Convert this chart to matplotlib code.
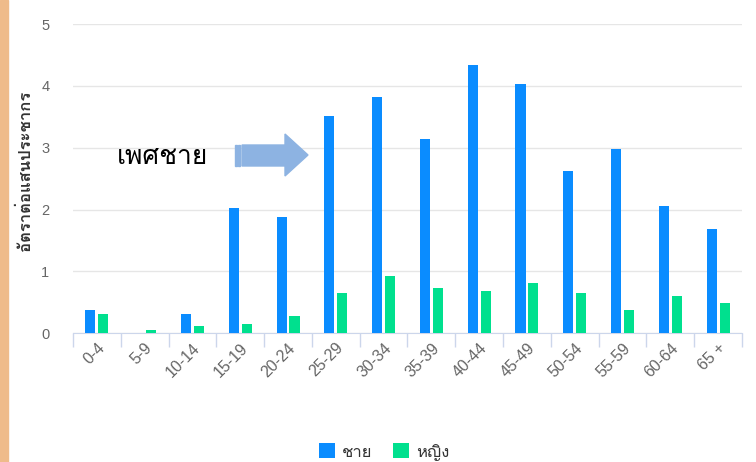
import matplotlib
matplotlib.use("Agg")
import matplotlib.pyplot as plt
from matplotlib.patches import Rectangle, Polygon
import numpy as np

categories = ["0-4", "5-9", "10-14", "15-19", "20-24", "25-29", "30-34",
              "35-39", "40-44", "45-49", "50-54", "55-59", "60-64", "65 +"]
male = [0.37, 0.0, 0.31, 2.03, 1.88, 3.52, 3.82, 3.14, 4.33, 4.03, 2.62, 2.98, 2.05, 1.68]
female = [0.32, 0.05, 0.11, 0.15, 0.28, 0.65, 0.92, 0.73, 0.69, 0.82, 0.65, 0.37, 0.61, 0.49]
series_names = ["ชาย", "หญิง"]
y_label = "อัตราต่อแสนประชากร"
annotation = "เพศชาย"

plt.rcParams['font.family'] = ["Liberation Sans", "Loma", "Noto Sans Thai Looped", "DejaVu Sans"]

BLUE = "#0A8CFF"
GREEN = "#00E08E"

fig = plt.figure(figsize=(7.56, 4.62), dpi=100)
ax = fig.add_axes([73/756, 1-333.3/462, (742-73)/756, (333.3-24)/462])

x = np.arange(len(categories))
w = 0.21
ax.bar(x - 0.135, male, w, color=BLUE, label=series_names[0], zorder=3)
ax.bar(x + 0.135, female, w, color=GREEN, label=series_names[1], zorder=3)

ax.set_xlim(-0.5, len(categories) - 0.5)
ax.set_ylim(0, 5)
ax.set_yticks([0, 1, 2, 3, 4, 5])
ax.yaxis.grid(True, color="#e6e6e6", linewidth=1, zorder=0)
ax.tick_params(axis="y", length=0, labelsize=10.5, labelcolor="#666666", pad=17)
ax.set_xticks(x)
ax.set_xticklabels(categories, rotation=45, ha="right", rotation_mode="anchor",
                   fontsize=11.5, color="#666666")
ax.tick_params(axis="x", length=0, pad=5)
ax.set_xticks(np.arange(-0.5, len(categories)), minor=True)
ax.tick_params(axis="x", which="minor", length=10, color="#ccd6eb", width=1)
for s in ["top", "right", "left"]:
    ax.spines[s].set_visible(False)
ax.spines["bottom"].set_color("#ccd6eb")

fig.text(25/756, 1-171/462, y_label, rotation=90, ha="center", va="center",
         fontsize=12, fontweight="bold", color="#333333")

# left orange strip
fig.patches.append(Rectangle((0, 0), 8/756, 1, transform=fig.transFigure,
                             color="#EFBB8A", zorder=0))

# annotation text and arrow
fig.text(117/756, 1-157/462, annotation, ha="left", va="center", fontsize=19,
         fontweight="normal", color="black")
def fx(px):
    return px / 756
def fy(py):
    return 1 - py / 462
arrow_col = "#8DB3E2"
for x0, x1 in [(235, 236.5), (238, 239.5)]:
    fig.patches.append(Rectangle((fx(x0), fy(166)), fx(x1) - fx(x0), fy(145) - fy(166),
                                 transform=fig.transFigure, color=arrow_col))
pts = [(242, 145), (285, 145), (285, 134), (308, 155), (285, 176), (285, 166), (242, 166)]
fig.patches.append(Polygon([(fx(a), fy(b)) for a, b in pts], closed=True,
                           transform=fig.transFigure, color=arrow_col))

leg = fig.legend(loc="center", bbox_to_anchor=(384/756, 1-452/462), ncol=2, frameon=False,
                 fontsize=12, handlelength=1.0, handleheight=1.0, handletextpad=0.4,
                 columnspacing=1.2)
for t in leg.get_texts():
    t.set_color("#333333")

fig.savefig("out.png", dpi=100)
